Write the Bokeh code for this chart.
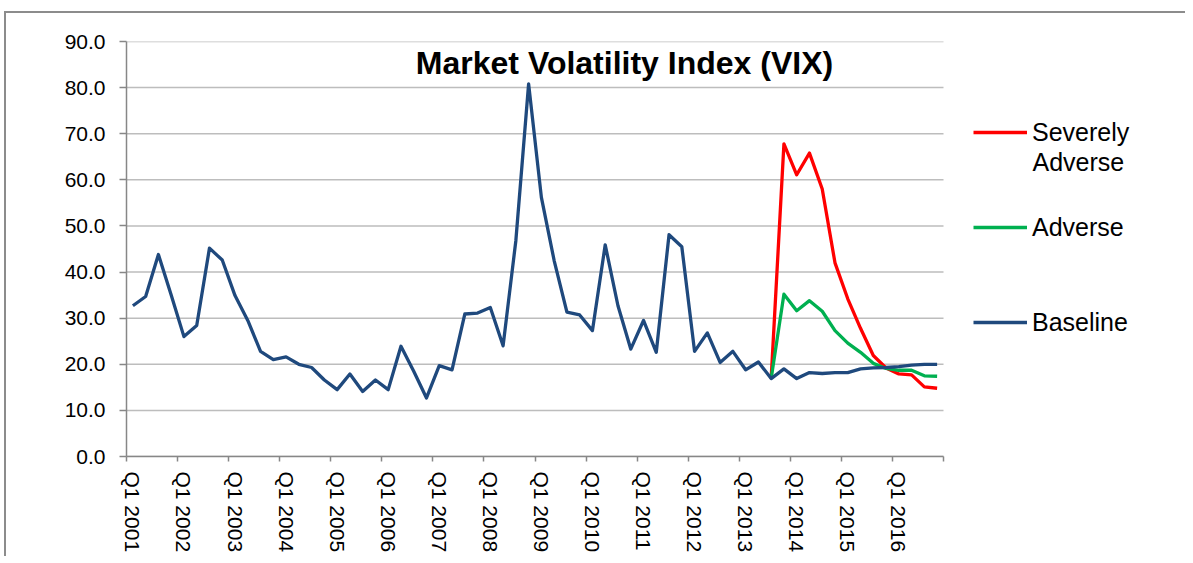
from bokeh.plotting import figure
from bokeh.models import (Range1d, FixedTicker, PrintfTickFormatter, Legend, LegendItem, Label)
from bokeh.embed import file_html
from bokeh.resources import INLINE

# ---------------- data ----------------
# Quarterly, Q1 2001 .. Q4 2016 (64 quarters)
baseline = [32.7, 34.7, 43.8, 35.0, 26.0, 28.4, 45.2, 42.6,
            34.9, 29.5, 22.8, 21.0, 21.6, 20.0, 19.3, 16.6,
            14.5, 17.9, 14.1, 16.6, 14.5, 23.9, 18.5, 12.7,
            19.7, 18.8, 30.9, 31.1, 32.3, 24.0, 46.8, 80.8,
            56.2, 42.5, 31.3, 30.7, 27.3, 45.9, 32.7, 23.3,
            29.5, 22.6, 48.1, 45.5, 22.8, 26.8, 20.4, 22.8,
            18.8, 20.5, 16.9, 19.0, 16.9, 18.2, 18.0, 18.2,
            18.2, 19.0, 19.2, 19.3, 19.5, 19.8, 20.0, 20.0]
# Scenarios, Q3 2013 .. Q4 2016
scenario_start = 50
severely_adverse = [16.9, 67.8, 61.1, 65.8, 58.0, 42.0, 34.2, 27.8, 21.9, 19.2, 17.9, 17.7, 15.1, 14.8]
adverse = [16.9, 35.2, 31.6, 33.8, 31.5, 27.3, 24.6, 22.6, 20.2, 19.1, 18.7, 18.7, 17.5, 17.4]

tick_labels = ["Q1 2001", "Q1 2002", "Q1 2003", "Q1 2004", "Q1 2005", "Q1 2006", "Q1 2007", "Q1 2008",
               "Q1 2009", "Q1 2010", "Q1 2011", "Q1 2012", "Q1 2013", "Q1 2014", "Q1 2015", "Q1 2016"]
y_ticks = [0, 10, 20, 30, 40, 50, 60, 70, 80, 90]
series_names = ["Severely", "Adverse", "Baseline"]
title_text = "Market Volatility Index (VIX)"

# ---------------- figure ----------------
FONT = "Liberation Sans"
GRAY = "#878787"
n = len(baseline)
PX_PER_Q = 817.0 / n           # horizontal scale of the plotting area
FRAME_W = 1181 - 120           # plotting area runs on to the right edge (legend lives there)
p = figure(width=1181, height=545, min_border_left=120, min_border_top=28,
           min_border_right=0, min_border_bottom=102,
           x_range=Range1d(0, FRAME_W / PX_PER_Q), y_range=Range1d(0, 90),
           output_backend="svg", toolbar_location=None,
           background_fill_color="white", border_fill_color="white")
p.outline_line_color = None
p.styles = {"margin-left": "4px", "margin-top": "11px",
            "border-top": "2px solid #8c8c8c", "border-left": "2px solid #8c8c8c"}

# horizontal gridlines, limited to the category span
p.segment(x0=0, x1=n, y0=y_ticks, y1=y_ticks, line_color="#bdbdbd", line_width=1.5)
p.xgrid.visible = False
p.ygrid.visible = False

x_base = [i + 0.5 for i in range(n)]
x_scen = [scenario_start + i + 0.5 for i in range(len(severely_adverse))]

r_sev = p.line(x_scen, severely_adverse, line_color="#FF0000", line_width=3.3, line_join="round")
r_adv = p.line(x_scen, adverse, line_color="#00B050", line_width=3.3, line_join="round")
r_base = p.line(x_base, baseline, line_color="#1F497D", line_width=3.3, line_join="round")

# y axis
ya = p.yaxis[0]
ya.ticker = FixedTicker(ticks=y_ticks)
ya.formatter = PrintfTickFormatter(format="%.1f")
ya.major_label_text_font = FONT
ya.major_label_text_font_size = "21px"
ya.major_label_text_color = "black"
ya.axis_line_color = GRAY
ya.axis_line_width = 1.5
ya.major_tick_line_color = GRAY
ya.major_tick_line_width = 1.5
ya.major_tick_out = 7
ya.major_tick_in = 0
ya.minor_tick_line_color = None
ya.major_label_standoff = 14

# x axis: labels at the centre of each Q1, tick marks (minor) at year boundaries
label_pos = [4 * k + 0.5 for k in range(len(tick_labels))]
tick_pos = [4 * k for k in range(len(tick_labels) + 1)]
xa = p.xaxis[0]
xa.bounds = (0, n)
xa.ticker = FixedTicker(ticks=label_pos, minor_ticks=tick_pos)
xa.major_label_overrides = {pos: lab for pos, lab in zip(label_pos, tick_labels)}
xa.axis_line_color = GRAY
xa.axis_line_width = 1.5
xa.major_tick_line_color = None
xa.major_tick_out = 0
xa.major_tick_in = 0
xa.minor_tick_line_color = GRAY
xa.minor_tick_line_width = 1.5
xa.minor_tick_out = 5
xa.minor_tick_in = 0
xa.major_label_orientation = "vertical"
xa.major_label_text_font = FONT
xa.major_label_text_font_size = "21px"
xa.major_label_text_color = "black"
xa.major_label_standoff = 10

# title inside the plot area
p.add_layout(Label(x=498, y=394, x_units="screen", y_units="screen", text=title_text,
                   text_align="center", text_baseline="alphabetic", text_font=FONT,
                   text_font_size="32px", text_font_style="bold", text_color="black"))

# legend
legend = Legend(items=[LegendItem(label=series_names[0], renderers=[r_sev]),
                       LegendItem(label=series_names[1], renderers=[r_adv]),
                       LegendItem(label=series_names[2], renderers=[r_base])],
                location=(847, 119), orientation="vertical", padding=0, margin=0, spacing=65,
                glyph_width=54, glyph_height=30, label_height=30, label_standoff=5,
                label_text_font=FONT, label_text_font_size="25px", label_text_color="black",
                border_line_color=None, background_fill_alpha=0)
p.add_layout(legend)
p.add_layout(Label(x=906, y=295, x_units="screen", y_units="screen", text="Adverse",
                   text_align="left", text_baseline="alphabetic", text_font=FONT,
                   text_font_size="25px", text_color="black"))

html = file_html(p, INLINE)
open("out.html", "w").write(html)
